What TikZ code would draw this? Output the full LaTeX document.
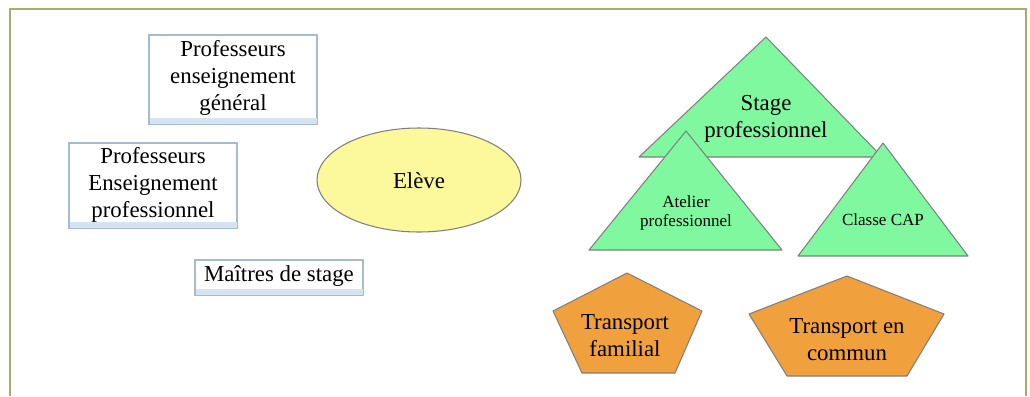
\documentclass[tikz,border=0pt]{standalone}
\usepackage{fontspec}
\setmainfont{Liberation Serif}
\newfontfamily\policeserif{Liberation Serif}
\usepackage{tikz}
\usetikzlibrary{positioning}

\definecolor{cadre}{RGB}{168,172,112}
\definecolor{bordbleu}{RGB}{168,186,208}
\definecolor{bandebleu}{RGB}{214,228,242}
\definecolor{vert}{RGB}{128,248,160}
\definecolor{orange}{RGB}{240,160,60}
\definecolor{jaune}{RGB}{252,248,156}

\tikzset{
  boite/.style={draw=bordbleu, fill=white, line width=0.6pt},
  bande/.style={fill=bandebleu, draw=none},
  forme/.style={draw=gray, line width=0.6pt, line join=round},
  grand/.style={font=\policeserif\fontsize{13}{15.3}\selectfont, align=center, inner sep=0pt},
  petit/.style={font=\policeserif\fontsize{9.7}{10.8}\selectfont, align=center, inner sep=0pt},
}

\begin{document}
\begin{tikzpicture}[x=0.02cm, y=-0.02cm]
  \useasboundingbox (0,0) rectangle (1030,396);

	%cadre
  \draw[cadre, line width=0.7pt] (10,396) -- (10,9) -- (1026,9) -- (1026,396);

	%boites
    \foreach \xa/\ya/\xb/\yb in {149/35/317/124, 69/143/237/228, 195/260/363/295}{
           \draw[boite] (\xa,\ya) rectangle (\xb,\yb);
           \fill[bande] (\xa+0.5,\yb-6) rectangle (\xb-0.5,\yb-0.5);
    }
  \node[grand] (pg) at (233,78) {Professeurs\\enseignement\\général};
  \node[grand] (pp) at (153,185) {Professeurs\\Enseignement\\professionnel};
  \node[grand] (ms) at (279,276) {Maîtres de stage};

	%eleve
  \draw[forme, fill=jaune] (419,180) ellipse [x radius=102, y radius=52];
  \node[grand] (eleve) at (419,181) {Elève};

	%triangles
  \draw[forme, fill=vert] (766,37) -- (882,157) -- (639,157) -- cycle;
  \node[grand] (stage) at (766,119) {Stage\\professionnel};
  \draw[forme, fill=vert] (686,131) -- (782,250) -- (589,250) -- cycle;
  \node[petit] (atelier) at (686,213) {Atelier\\professionnel};
  \draw[forme, fill=vert] (883,143) -- (968,256) -- (798,256) -- cycle;
  \node[petit] (cap) at (883,220) {Classe CAP};

	%transports
  \draw[forme, fill=orange] (627,273) -- (702,311) -- (675,373) -- (582,373) -- (553,311) -- cycle;
  \node[grand] (familial) at (625,336) {Transport\\familial};
  \draw[forme, fill=orange] (847,276) -- (944,314) -- (907,376) -- (787,376) -- (749,314) -- cycle;
  \node[grand] (commun) at (847,340) {Transport en\\commun};

\end{tikzpicture}
\end{document}
